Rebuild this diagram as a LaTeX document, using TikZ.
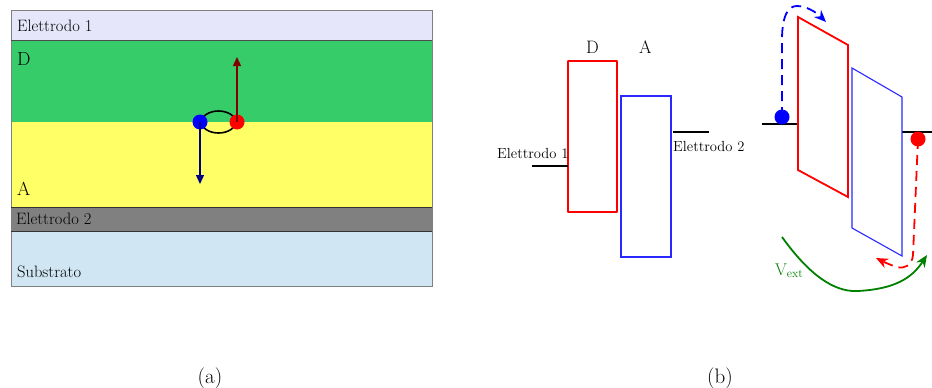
\documentclass[tikz,border=0pt]{standalone}
\usetikzlibrary{arrows.meta}
\definecolor{lav}{RGB}{230,230,250}
\definecolor{dgreen}{RGB}{55,204,106}
\definecolor{ayel}{RGB}{255,255,102}
\definecolor{egray}{RGB}{128,128,128}
\definecolor{subblue}{RGB}{208,230,242}
\definecolor{dred}{RGB}{128,0,0}
\definecolor{dblue}{RGB}{0,0,128}
\definecolor{vgreen}{RGB}{0,128,0}
\definecolor{pblue}{RGB}{40,40,255}
\begin{document}
\begin{tikzpicture}[x=1pt,y=-1pt,
  lbl/.style={inner sep=0pt,anchor=base west,font=\fontsize{16.5}{19}\selectfont},
  biglbl/.style={inner sep=0pt,anchor=base west,font=\fontsize{19}{22}\selectfont},
  smlbl/.style={inner sep=0pt,anchor=base west,font=\fontsize{14.6}{17}\selectfont},
  caplbl/.style={inner sep=0pt,anchor=base,font=\fontsize{21}{24}\selectfont},
  dot/.style={circle,inner sep=0pt,minimum size=15pt},
  lvl/.style={line width=1.2pt},
  tip/.style={-{Stealth[length=12pt,width=10pt]}},
  dtip/.style={-{Triangle[length=9pt,width=8pt]}},
  dsh/.style={line width=1.8pt,dash pattern=on 10pt off 6pt}]
\useasboundingbox (0,0) rectangle (932,388);
% ---------- panel (a)
\fill[lav] (11,10) rectangle (432,40);
\fill[dgreen] (11,40) rectangle (432,122);
\fill[ayel] (11,122) rectangle (432,207);
\fill[egray] (11,207) rectangle (432,231);
\fill[subblue] (11,231) rectangle (432,286);
\draw[black!50,line width=0.8pt] (11,10) rectangle (432,286);
\draw[black!70,line width=0.6pt] (11,40) -- (432,40);
\draw[black!80,line width=0.6pt] (11,207) -- (432,207) (11,231) -- (432,231);
\node[lbl] (e1a) at (17,31) {Elettrodo 1};
\node[biglbl] (Da) at (17,65) {D};
\node[biglbl] (Aa) at (17,195) {A};
\node[lbl] (e2a) at (16,224) {Elettrodo 2};
\node[lbl] (sub) at (17,277) {Substrato};
\draw[line width=1.6pt] (218.5,122) ellipse (17 and 11);
\node[dot,fill=blue] (hb) at (200,122) {};
\node[dot,fill=red] (er) at (237,122) {};
\coordinate (up) at (237,57);
\coordinate (dn) at (200,184);
\draw[dred,line width=1.4pt,dtip] (er.center) -- (up);
\draw[dblue,line width=1.4pt,dtip] (hb.center) -- (dn);
% ---------- panel (b) left
\node[inner sep=0pt,anchor=base west,font=\fontsize{18}{21}\selectfont] (Db) at (586,53) {D};
\node[inner sep=0pt,anchor=base west,font=\fontsize{18}{21}\selectfont] (Ab) at (639,53) {A};
\draw[red,line width=1.8pt,rounded corners=0.5pt] (568,61) rectangle (617,212);
\draw[pblue,line width=1.1pt] (621,96) rectangle (671,257);
\coordinate (l1a) at (532,166); \coordinate (l1b) at (568,166);
\coordinate (l2a) at (673,132); \coordinate (l2b) at (709,132);
\draw[lvl] (l1a) -- (l1b);
\draw[lvl] (l2a) -- (l2b);
\node[smlbl] (e1b) at (497,158) {Elettrodo 1};
\node[smlbl] (e2b) at (673,151) {Elettrodo 2};
% ---------- panel (b) right
\coordinate (l3a) at (762,124); \coordinate (l3b) at (798,124);
\coordinate (l4a) at (902,132); \coordinate (l4b) at (932,132);
\draw[lvl] (l3a) -- (l3b);
\draw[lvl] (l4a) -- (l4b);
\draw[red,line width=1.8pt] (798,17) -- (848,45) -- (848,197) -- (798,170) -- cycle;
\draw[pblue,line width=1.1pt] (852,68) -- (902,97) -- (902,256) -- (852,228) -- cycle;
\node[dot,fill=blue] (hb2) at (782,117) {};
\node[dot,fill=red] (er2) at (918,139) {};
\coordinate (bt) at (826,22);
\coordinate (rt) at (876,258);
\draw[blue,dsh,tip]
  (hb2.center) -- (782,40) .. controls (782,12) and (790,6) .. (797,6)
  .. controls (806,6) and (816,12) .. (bt);
\draw[red,dsh,tip]
  (er2.center) -- (913,255) .. controls (912,266) and (904,269) .. (897,267)
  .. controls (890,265) and (882,261) .. (rt);
\coordinate (g1) at (782,237);
\coordinate (g2) at (927,255);
\draw[vgreen,line width=1.8pt,tip]
  (g1) .. controls (815,283) and (840,292) .. (858,291)
  .. controls (895,289) and (912,278) .. (g2);
\node[inner sep=0pt,anchor=base west,text=vgreen,font=\fontsize{17}{20}\selectfont] (vext) at (775,275) {V$_{\mathrm{ext}}$};
% ---------- captions
\node[caplbl] (capa) at (210,383) {(a)};
\node[caplbl] (capb) at (720,383) {(b)};
\end{tikzpicture}
\end{document}
